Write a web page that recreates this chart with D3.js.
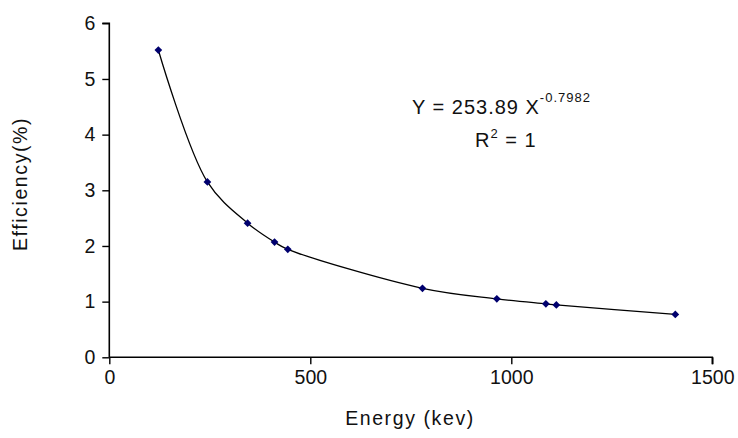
<!DOCTYPE html>
<html>
<head>
<meta charset="utf-8">
<script src="https://cdn.jsdelivr.net/npm/d3@7/dist/d3.min.js"></script>
<style>
  html, body { margin: 0; padding: 0; background: #fff; }
  svg { display: block; }
  text { font-family: "Liberation Sans", Arial, sans-serif; fill: #111; }
</style>
</head>
<body>
<svg id="chart" width="738" height="438"></svg>
<script>
// Data
const energies = [122, 244, 344, 411, 444, 779, 964, 1086, 1112, 1408];
const efficiencies = [5.52, 3.15, 2.41, 2.07, 1.94, 1.24, 1.05, 0.96, 0.94, 0.77];
const xTicks = [0, 500, 1000, 1500];
const yTicks = [0, 1, 2, 3, 4, 5, 6];
const xTitle = "Energy (kev)";
const yTitle = "Efficiency(%)";
const eqMain = "Y = 253.89 X";
const eqExp = "-0.7982";
const r2Text = ["R", "2", " = 1"];

const svg = d3.select("#chart");
const mLeft = 109.3, mRight = 712.3, mTop = 23.3, mBottom = 357.3;

const x = d3.scaleLinear().domain([0, 1500]).range([mLeft, mRight]);
const y = d3.scaleLinear().domain([0, 6]).range([mBottom, mTop]);

// Axes
const xAxis = d3.axisBottom(x).tickValues(xTicks).tickSize(7).tickPadding(6).tickFormat(d3.format("d"));
const yAxis = d3.axisLeft(y).tickValues(yTicks).tickSize(7).tickPadding(7).tickFormat(d3.format("d"));

const gx = svg.append("g").attr("transform", `translate(0,${mBottom})`).call(xAxis);
const gy = svg.append("g").attr("transform", `translate(${mLeft},0)`).call(yAxis);

[gx, gy].forEach(g => {
  g.select(".domain").attr("stroke", "#000").attr("stroke-width", 1.6);
  g.selectAll(".tick line").attr("stroke", "#000").attr("stroke-width", 1.4);
  g.selectAll(".tick text")
    .style("font-family", '"Liberation Sans", Arial, sans-serif')
    .style("font-size", "19.5px")
    .attr("fill", "#111");
});
gx.select(".domain").attr("d", `M${mLeft},0H${mRight}V7`);
gy.select(".domain").attr("d", `M-7,${mTop}H0V${mBottom}`);

// Axis titles
svg.append("text")
  .attr("x", 410).attr("y", 425)
  .attr("text-anchor", "middle")
  .style("font-size", "19.5px")
  .style("letter-spacing", "1.6px")
  .text(xTitle);

svg.append("text")
  .attr("transform", "translate(27,184) rotate(-90)")
  .attr("text-anchor", "middle")
  .style("font-size", "19.5px")
  .style("letter-spacing", "1.6px")
  .text(yTitle);

// Curve through points
const pts = energies.map((e, i) => [e, efficiencies[i]]);
const line = d3.line()
  .x(d => x(d[0]))
  .y(d => y(d[1]))
  .curve(d3.curveCatmullRom.alpha(0.5));

svg.append("path")
  .datum(pts)
  .attr("d", line)
  .attr("fill", "none")
  .attr("stroke", "#000")
  .attr("stroke-width", 1.3);

// Markers (square diamonds)
svg.append("g").selectAll("path")
  .data(pts)
  .join("path")
  .attr("transform", d => `translate(${x(d[0])},${y(d[1])}) rotate(45)`)
  .attr("d", d3.symbol().type(d3.symbolSquare).size(30))
  .attr("fill", "#00006e");

// Equation
const eq = svg.append("text")
  .attr("x", 412).attr("y", 114)
  .style("font-size", "20px")
  .style("letter-spacing", "1px");
eq.append("tspan").text(eqMain);
eq.append("tspan").attr("dy", -12).style("font-size", "13px").text(eqExp);

const r2 = svg.append("text")
  .attr("x", 475).attr("y", 147)
  .style("font-size", "20px")
  .style("letter-spacing", "1px");
r2.append("tspan").text(r2Text[0]);
r2.append("tspan").attr("dy", -9).style("font-size", "13px").text(r2Text[1]);
r2.append("tspan").attr("dy", 9).text(r2Text[2]);
</script>
</body>
</html>
